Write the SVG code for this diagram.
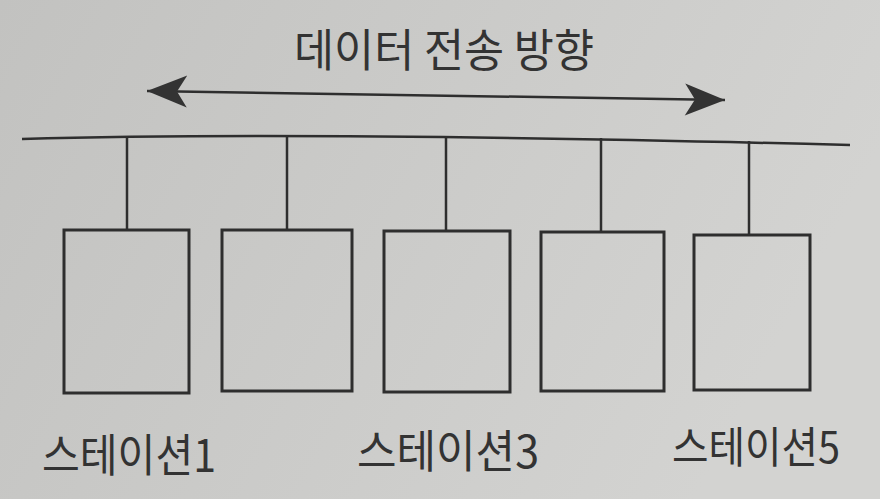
<svg xmlns="http://www.w3.org/2000/svg" width="880" height="499" viewBox="0 0 880 499">
<defs>
<linearGradient id="bg" x1="0" y1="0" x2="1" y2="0.3">
<stop offset="0" stop-color="#c2c2c0"/>
<stop offset="1" stop-color="#d3d3d1"/>
</linearGradient>
<marker id="ah" viewBox="-44 -17 46 34" refX="0" refY="0" markerWidth="46" markerHeight="34" markerUnits="userSpaceOnUse" orient="auto-start-reverse">
<path d="M0,0 L-40,-16 L-30,0 L-40,16 Z" fill="#333"/>
</marker>
<style>
.ln{stroke:#2e2e2e;stroke-width:2.5;fill:none}
.box{stroke:#2e2e2e;stroke-width:3;fill:none}
.t{font-family:"Noto Sans CJK KR","Noto Sans",sans-serif;fill:#333}
</style>
</defs>
<rect width="880" height="499" fill="url(#bg)"/>
<text class="t" x="294" y="67" font-size="45" textLength="300" lengthAdjust="spacingAndGlyphs">데이터 전송 방향</text>
<g id="connectors">
<line class="ln" x1="147" y1="91" x2="725" y2="100" marker-start="url(#ah)" marker-end="url(#ah)"/>
<path class="ln" stroke-width="3" d="M22,139 Q300,131 850,145"/>
<line class="ln" x1="127" y1="136" x2="127" y2="230"/>
<line class="ln" x1="287" y1="135" x2="287" y2="230"/>
<line class="ln" x1="446" y1="136" x2="446" y2="231"/>
<line class="ln" x1="601" y1="138" x2="601" y2="232"/>
<line class="ln" x1="749" y1="141" x2="749" y2="235"/>
</g>
<g id="station1"><rect class="box" x="64" y="230" width="125" height="163"/></g>
<g id="station2"><rect class="box" x="222" y="230" width="130" height="161"/></g>
<g id="station3"><rect class="box" x="384" y="231" width="126" height="161"/></g>
<g id="station4"><rect class="box" x="541" y="232" width="123" height="159"/></g>
<g id="station5"><rect class="box" x="694" y="235" width="116" height="155"/></g>
<g id="labels">
<text class="t" x="42" y="472" font-size="45" textLength="174" lengthAdjust="spacingAndGlyphs">스테이션1</text>
<text class="t" x="357" y="468" font-size="45" textLength="182" lengthAdjust="spacingAndGlyphs">스테이션3</text>
<text class="t" x="672" y="463" font-size="43" textLength="168" lengthAdjust="spacingAndGlyphs">스테이션5</text>
</g>
</svg>
